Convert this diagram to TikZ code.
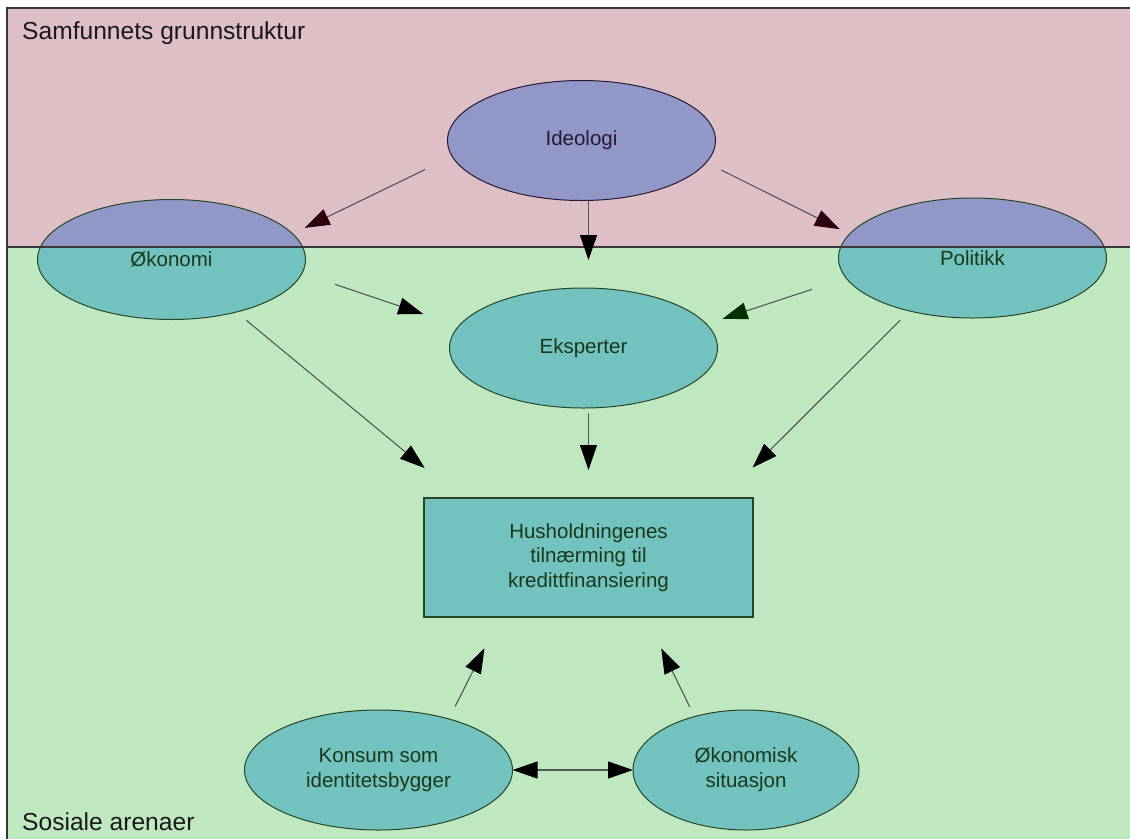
\documentclass[tikz,border=0pt]{standalone}
\usepackage{fontspec}
\setmainfont{Liberation Sans}
\usetikzlibrary{shapes.geometric,arrows.meta}

\definecolor{TopBand}{RGB}{222,191,198}
\definecolor{LowBand}{RGB}{192,232,192}
\definecolor{IdeoFill}{RGB}{145,152,200}
\definecolor{NodeFill}{RGB}{114,194,191}
\definecolor{NodeLine}{RGB}{38,70,38}
\definecolor{NodeText}{RGB}{26,56,26}
\definecolor{IdeoText}{RGB}{40,24,50}
\definecolor{EdgeGray}{RGB}{85,85,85}
\definecolor{FrameGray}{RGB}{55,55,55}
\definecolor{HeadRed}{RGB}{45,0,15}
\definecolor{HeadGreen}{RGB}{0,48,0}

\tikzset{
  VertexStyle/.style = {ellipse, draw=NodeLine, line width=1pt, fill=NodeFill, text=NodeText,
                        minimum width=268pt, minimum height=120pt,
                        inner sep=0pt, outer sep=0pt, align=center,
                        font=\fontsize{20.5}{25}\selectfont},
  TopVertex/.style   = {VertexStyle, draw=IdeoText, fill=IdeoFill, text=IdeoText},
  SplitVertex/.style = {VertexStyle,
                        path picture={\fill[IdeoFill] (path picture bounding box.north west)
                                       rectangle (path picture bounding box.east |- divider);}},
  BoxStyle/.style    = {rectangle, draw=NodeLine, line width=1.5pt, fill=NodeFill,
                        text=NodeText, minimum width=329pt, minimum height=119pt,
                        inner sep=0pt, outer sep=0pt, align=center,
                        font=\fontsize{20.5}{24.5}\selectfont},
  AreaLabel/.style   = {anchor=base west, inner sep=0pt, text=black!90,
                        font=\fontsize{24.6}{29}\selectfont},
  EdgeStyle/.style   = {draw=EdgeGray, line width=1.1pt,
                        -{Triangle[length=25pt,width=17pt,color=#1]}},
  EdgeStyle/.default = black,
  BothStyle/.style   = {draw=EdgeGray, line width=1.1pt,
                        {Triangle[length=25pt,width=17pt,color=black]}-{Triangle[length=25pt,width=17pt,color=black]}}
}

\begin{document}
\begin{tikzpicture}[x=1pt,y=-1pt]

\useasboundingbox (0,0) rectangle (1130,839);

%%% two areas
\coordinate (divider) at (7,247);
\fill[TopBand] (7,8) rectangle (1130,247);
\fill[LowBand] (7,247) rectangle (1130,839);
\draw[FrameGray, line width=2pt] (7,839) -- (7,8) -- (1130,8);

\node[AreaLabel] (grunn) at (22,39) {Samfunnets grunnstruktur};
\node[AreaLabel] (arena) at (22,830) {Sosiale arenaer};

%%% nodes
\node[TopVertex]   (ideo) at (581.5,140.5) {Ideologi};
\node[SplitVertex] (oko)  at (171.5,259.5) {Økonomi};
\node[SplitVertex] (poli) at (972.5,258)   {Politikk};
\node[VertexStyle] (eksp) at (583.5,348)   {Eksperter};
\node[BoxStyle]    (box)  at (588.5,557.5) {Husholdningenes\\tilnærming til\\kredittfinansiering};
\node[VertexStyle] (kons) at (378.5,770)   {Konsum som\\identitetsbygger};
\node[VertexStyle, minimum width=226pt] (okos) at (746,770) {Økonomisk\\situasjon};

\draw[FrameGray, line width=1.5pt] (divider) -- ++(1123,0);

%%% edges
\draw[EdgeStyle=HeadRed, shorten <=30pt, shorten >=13.5pt] (ideo.187) -- (oko.12);
\draw[EdgeStyle, shorten >=28pt] (ideo.south -| box.north) -- (eksp.north -| box.north);
\draw[EdgeStyle=HeadRed, shorten <=17pt, shorten >=11pt] (ideo.350) -- (poli.169);

\draw[EdgeStyle, shorten <=35pt, shorten >=37.5pt] (oko.354) -- (eksp.170);
\draw[EdgeStyle=HeadGreen, shorten <=36pt, shorten >=17pt] (poli.189) -- (eksp.11);

\draw[EdgeStyle, shorten <=13pt, shorten >=47pt] (oko.321) -- (box.155);
\draw[EdgeStyle, shorten <=5pt, shorten >=28pt] (eksp.south -| box.north) -- (box.north);
\draw[EdgeStyle, shorten <=13pt, shorten >=43pt] (poli.220) -- (box.24);

\draw[EdgeStyle, shorten <=14pt, shorten >=35pt] (kons.36) -- (box.214);
\draw[EdgeStyle, shorten <=10.7pt, shorten >=35pt] (okos.134) -- (box.314);
\draw[BothStyle] (kons.east) -- (okos.west);

\end{tikzpicture}
\end{document}
